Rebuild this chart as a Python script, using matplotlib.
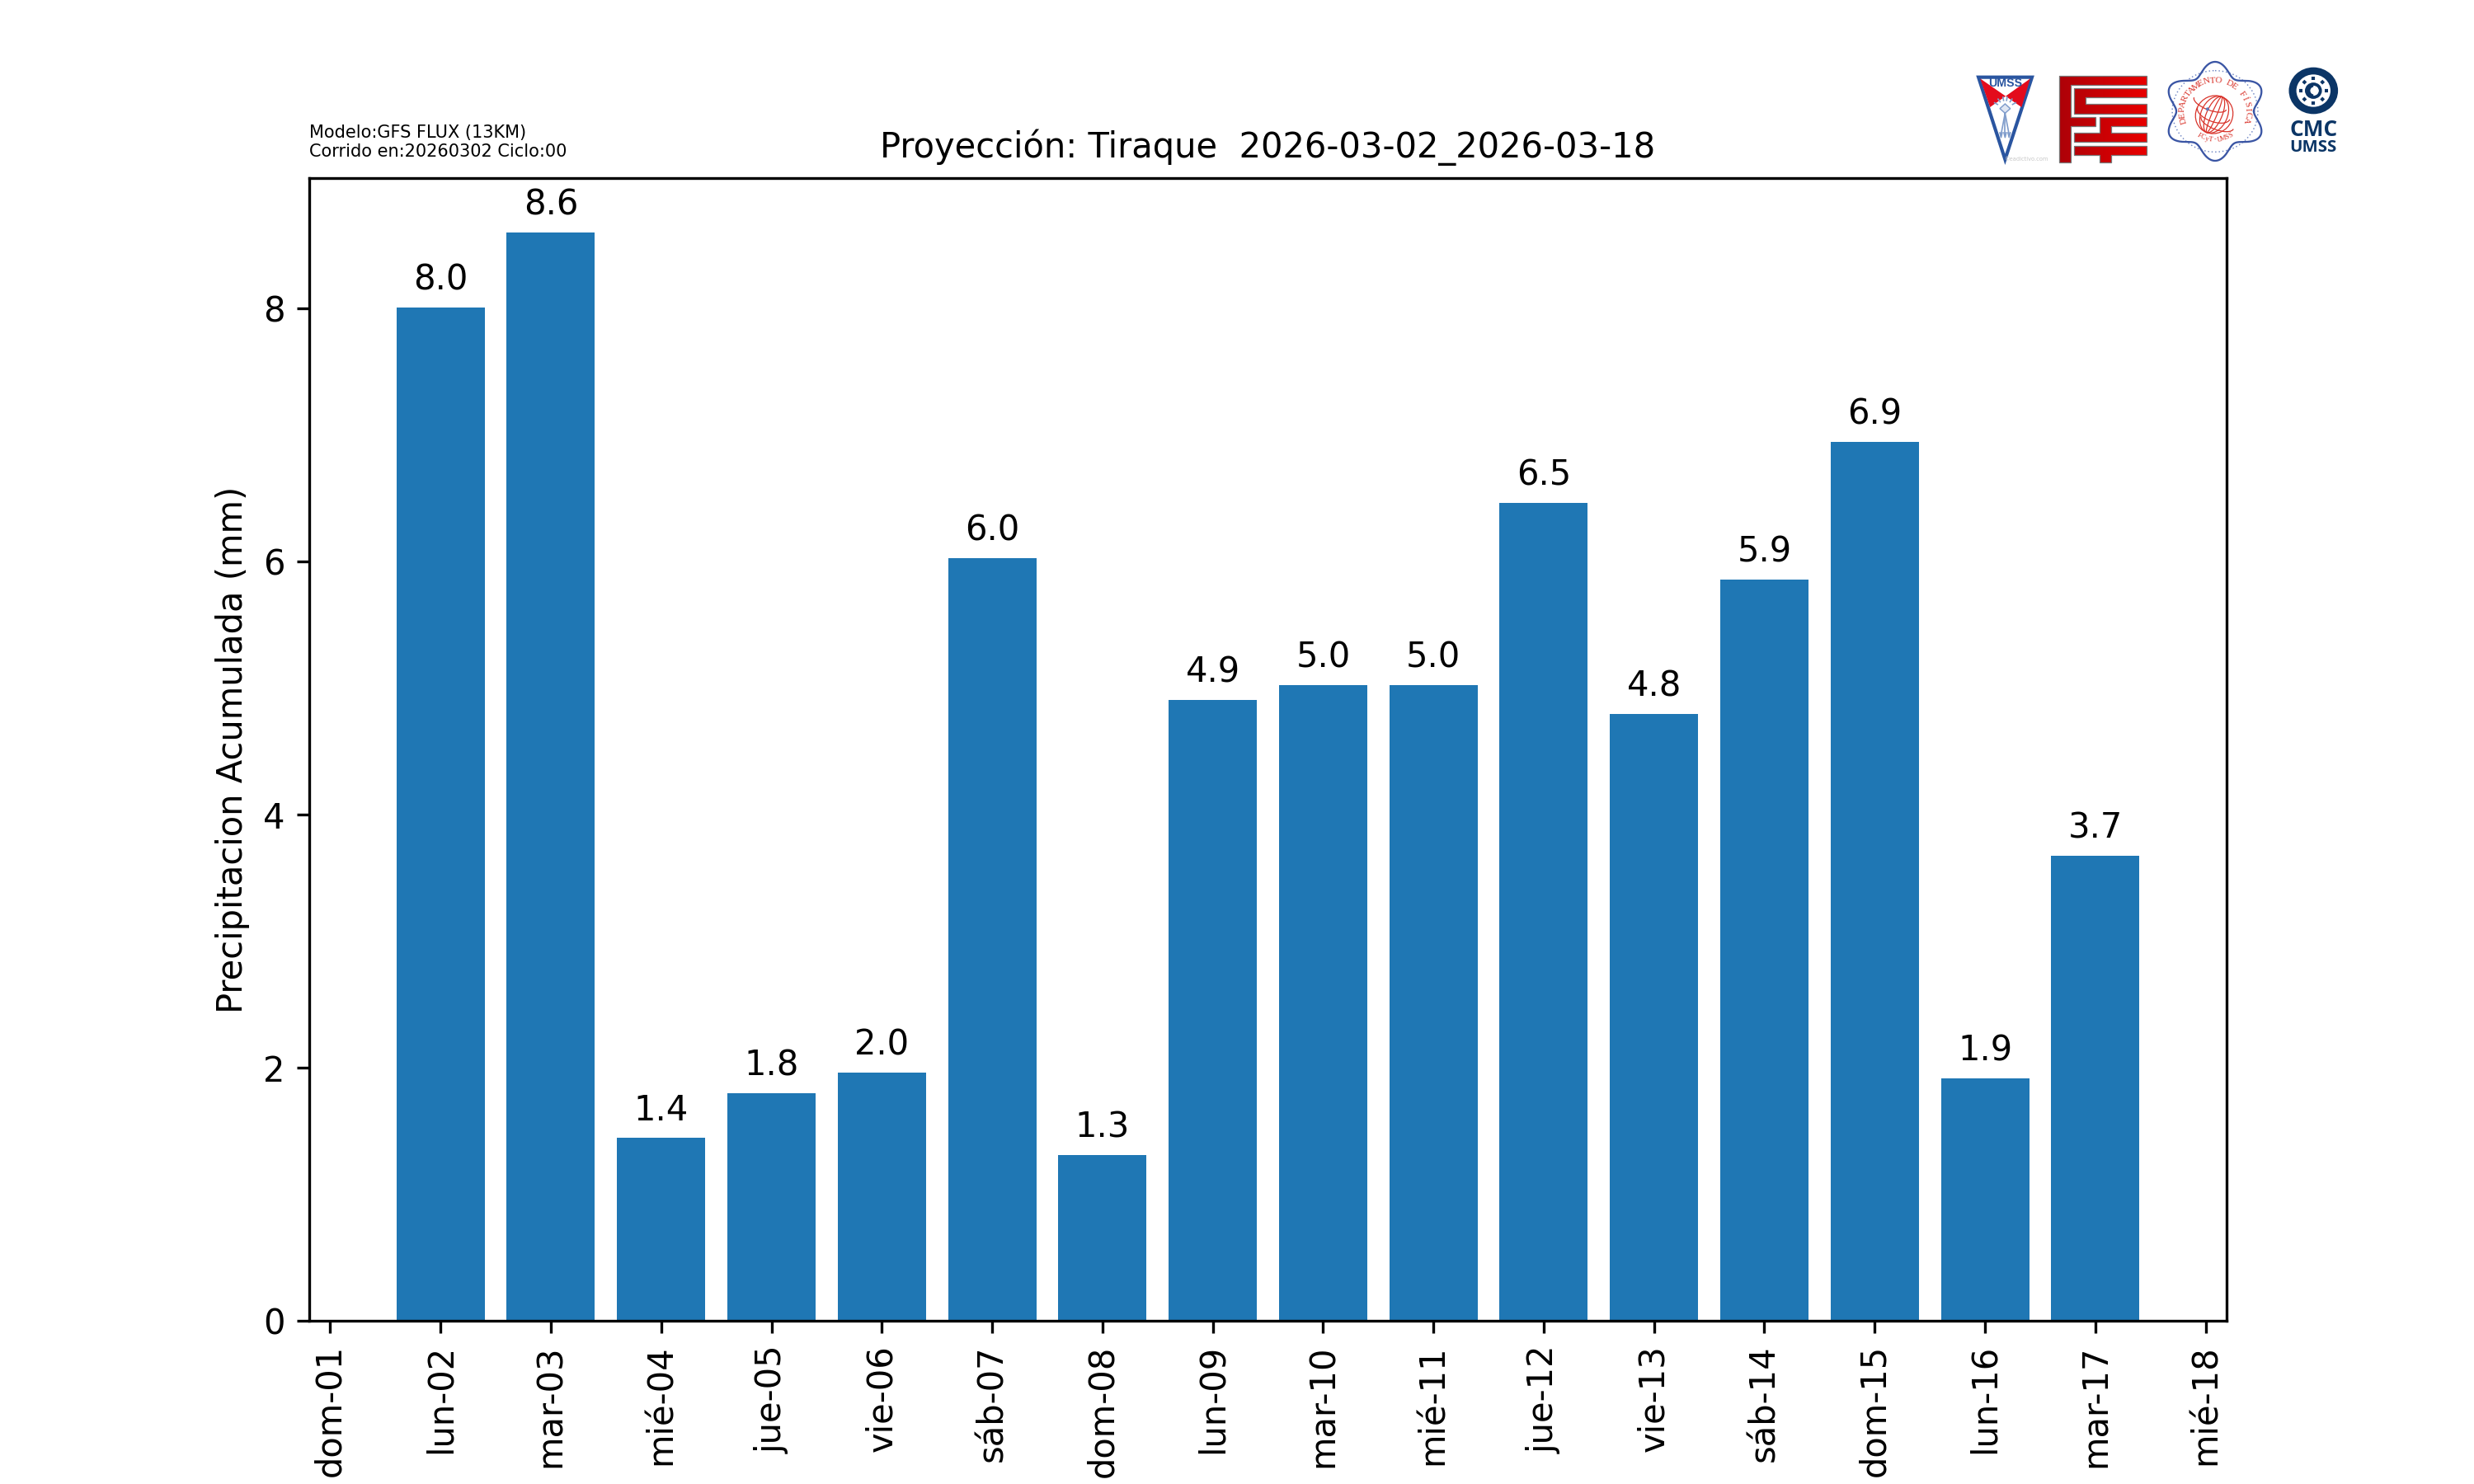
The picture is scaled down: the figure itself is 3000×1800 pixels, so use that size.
import numpy as np
import matplotlib
matplotlib.use("Agg")
import matplotlib.pyplot as plt
from matplotlib.patches import Polygon, Circle, Ellipse, Wedge, Arc
from matplotlib.colors import LinearSegmentedColormap

days = ["dom-01","lun-02","mar-03","mié-04","jue-05","vie-06","sáb-07","dom-08","lun-09","mar-10","mié-11","jue-12","vie-13","sáb-14","dom-15","lun-16","mar-17","mié-18"]
rain = [8.01,8.60,1.445,1.80,1.96,6.025,1.31,4.905,5.025,5.025,6.46,4.795,5.86,6.945,1.915,3.675]
labels = ["8.0","8.6","1.4","1.8","2.0","6.0","1.3","4.9","5.0","5.0","6.5","4.8","5.9","6.9","1.9","3.7"]
title = "Proyección: Tiraque  2026-03-02_2026-03-18"
note = "Modelo:GFS FLUX (13KM)\nCorrido en:20260302 Ciclo:00"

fig, ax = plt.subplots(figsize=(10, 6), dpi=300)
x = list(range(1, 17))
bars = ax.bar(x, rain, color="#1f77b4")
for b, t in zip(bars, labels):
    ax.annotate(t, (b.get_x()+b.get_width()/2, b.get_height()), xytext=(0, 3),
                textcoords="offset points", ha="center", va="bottom", fontsize=10)
ax.set_xticks(range(18))
ax.set_xticklabels(days, rotation=90)
ax.set_ylim(0, 9.03)
ax.set_xlim(-0.19, 17.19)
ax.set_ylabel("Precipitacion Acumulada (mm)")
ax.set_title(title, fontsize=10)
fig.text(0.125, 0.892, note, fontsize=5, va="bottom", ha="left")

# logos, drawn on an overlay with its own layout units
lg = fig.add_axes([2350/3000, 1-220/1800, 550/3000, 170/1800], zorder=5)
lg.patch.set_alpha(0)
lg.axis("off")

BLUE = "#2a55a0"
RED = "#e30b1c"
NAVY = "#0b3566"

# UMSS shield
lg.add_patch(Polygon([(140,131),(325,131),(232,430)], closed=True, fc="white", ec=BLUE, lw=1.0, joinstyle="miter"))
lg.add_patch(Polygon([(146,136),(234,200),(180,240)], closed=True, fc=RED, ec="none"))
lg.add_patch(Polygon([(319,136),(234,200),(289,240)], closed=True, fc=RED, ec="none"))
lg.text(232, 153, "UMSS", color=BLUE, fontsize=3.4, fontweight="bold", ha="center", va="center", family="Liberation Sans")
ORN = "#7f9ccb"
lg.add_patch(Polygon([(232,228),(250,245),(232,262),(214,245)], closed=True, fc="#dfe6f3", ec=ORN, lw=0.35))
for xe in (218, 232, 246):
    lg.plot([232, xe], [262, 340], color=ORN, lw=0.4)
    lg.plot([xe-4, xe, xe+4], [333, 350, 333], color=ORN, lw=0.4)
for a in np.deg2rad([-150,-125,-100,-80,-55,-30]):
    lg.plot([232+30*np.cos(a), 232+42*np.cos(a)], [245+30*np.sin(a), 245+42*np.sin(a)], color=ORN, lw=0.4)
lg.text(305, 430, "©eadictivo.com", color="#c8c8c8", fontsize=1.6, ha="center", va="center")

# FCyT mark with horizontal red gradient
fcyt_cmap = LinearSegmentedColormap.from_list("fcyt", ["#ad0208", "#e80000"])
grad = np.linspace(0, 1, 256).reshape(1, -1)
fcyt_polys = [
    [(418,125),(720,125),(720,158),(458,158),(458,275),(545,275),(545,310),(458,310),(458,440),(418,440)],
    [(470,170),(720,170),(720,205),(510,205),(510,228),(720,228),(720,263),(470,263)],
    [(560,275),(720,275),(720,310),(600,310),(600,332),(720,332),(720,367),(470,367),(470,332),(560,332)],
    [(470,380),(720,380),(720,415),(600,415),(600,440),(560,440),(560,415),(470,415)],
]
for pts in fcyt_polys:
    p = Polygon(pts, closed=True, fc="none", ec="#777777", lw=0.3, joinstyle="miter", zorder=3)
    lg.add_patch(p)
    im = lg.imshow(grad, extent=(418, 720, 440, 125), aspect="auto", cmap=fcyt_cmap, zorder=2)
    im.set_clip_path(p)

# Departamento de Fisica seal
cx, cy = 958, 255
th = np.linspace(0, 2*np.pi, 720)
r = 157 + 23*np.cos(6*(th - np.pi/2))
lg.plot(cx + r*np.cos(th), cy + r*np.sin(th), color="#3a55a4", lw=0.55)
lg.add_patch(Circle((cx, cy), 148, fc="none", ec="#6f86c4", lw=0.35, ls=(0, (1, 2))))

def arc_text(s, radius, start, end, outward=True, **kw):
    for ch, a in zip(s, np.linspace(start, end, len(s))):
        ra = np.deg2rad(a)
        px = cx + radius*np.cos(ra)
        py = cy - radius*np.sin(ra)
        rot = a - 90 if outward else a + 90
        lg.text(px, py, ch, rotation=rot, rotation_mode="anchor", ha="center", va="center", **kw)

SEAL = "#d9342b"
arc_text("DEPARTAMENTO DE FÍSICA", 112, 197, -17, color=SEAL, fontsize=2.7, family="Liberation Serif")
arc_text("FCyT-UMSS", 104, 238, 302, outward=False, color=SEAL, fontsize=2.0, family="Liberation Serif")
for w in (128, 92, 54, 18):
    lg.add_patch(Ellipse((955, 267), w, 140, angle=22, fc="none", ec=SEAL, lw=0.3))
for f, h in ((-40, 105), (-5, 135), (30, 110)):
    lg.add_patch(Arc((955 + f*0.35, 267 + f), 120, h*0.45, angle=22, theta1=0, theta2=180, ec=SEAL, lw=0.3))
lg.add_patch(Circle((932, 247), 6, fc="#5f78b8", ec="none"))

# CMC mark
mx, my = 1298, 180
lg.add_patch(Circle((mx, my), 85, fc=NAVY, ec="none"))
lg.add_patch(Circle((mx, my), 59, fc="white", ec="none"))
for a in np.deg2rad(np.arange(0, 360, 45)):
    lg.plot([mx+38*np.cos(a), mx+50*np.cos(a)], [my+38*np.sin(a), my+50*np.sin(a)], color=NAVY, lw=1.0, solid_capstyle="butt")
lg.add_patch(Circle((mx, my), 24, fc="white", ec=NAVY, lw=0.9))
lg.add_patch(Wedge((mx, my), 24, 90, 270, fc=NAVY, ec="none"))
lg.add_patch(Circle((mx+3, my), 14, fc="white", ec="none"))
lg.text(mx, 323, "CMC", color=NAVY, fontsize=6.3, fontweight="bold", ha="center", va="center", family="Open Sans")
lg.text(mx, 388, "UMSS", color=NAVY, fontsize=4.9, fontweight="bold", ha="center", va="center", family="Open Sans")

lg.set_xlim(0, 1568)
lg.set_ylim(510, 0)

fig.savefig("out.png", dpi=300)
